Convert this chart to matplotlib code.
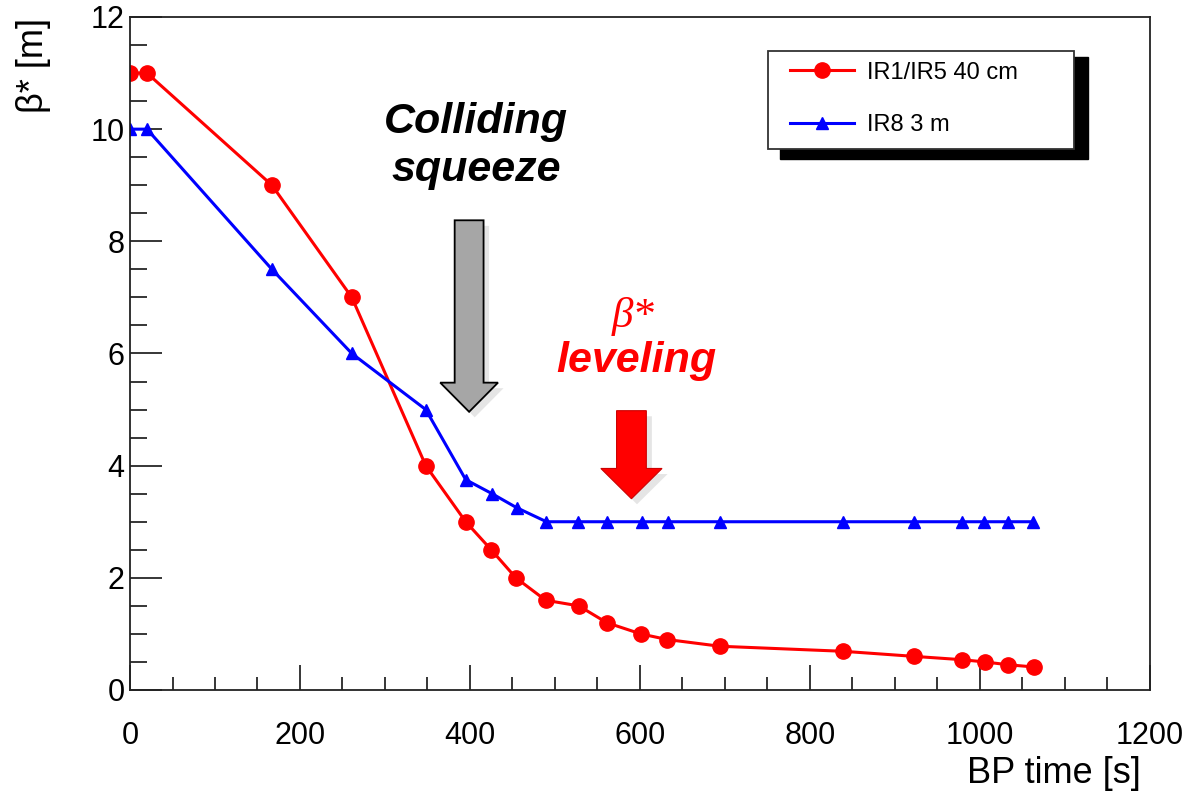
import matplotlib
matplotlib.use('Agg')
import matplotlib.pyplot as plt
import matplotlib.patches as mpatches
import matplotlib.patheffects as pe
from matplotlib.ticker import MultipleLocator

plt.rcParams['font.family'] = ['Liberation Sans', 'DejaVu Sans']

# IR1/IR5 40 cm
t_ir15 = [0, 20, 167, 261, 348, 395, 425, 454, 489, 528, 561, 601, 632, 694,
          839, 922, 979, 1006, 1033, 1064]
b_ir15 = [11.0, 11.0, 9.0, 7.0, 4.0, 3.0, 2.5, 2.0, 1.6, 1.5, 1.2, 1.0, 0.9, 0.78,
          0.69, 0.6, 0.54, 0.5, 0.45, 0.41]

# IR8 3 m
t_ir8 = [0, 20, 167, 261, 348, 395, 426, 455, 490, 527, 561, 602, 633, 694,
         839, 922, 979, 1005, 1033, 1063]
b_ir8 = [10.0, 10.0, 7.5, 6.0, 5.0, 3.75, 3.5, 3.25, 3.0, 3.0, 3.0, 3.0, 3.0, 3.0,
         3.0, 3.0, 3.0, 3.0, 3.0, 3.0]

fig = plt.figure(figsize=(11.83, 7.94), dpi=100)
ax = fig.add_axes([0.1099, 0.131, 0.972 - 0.1099, 0.9786 - 0.131])

ax.plot(t_ir15, b_ir15, color='red', lw=2.2, marker='o', ms=11, mec='red', label='IR1/IR5 40 cm')
ax.plot(t_ir8, b_ir8, color='blue', lw=2.2, marker='^', ms=9, mec='blue', label='IR8 3 m')

ax.set_xlim(0, 1200)
ax.set_ylim(0, 12)
ax.xaxis.set_major_locator(MultipleLocator(200))
ax.xaxis.set_minor_locator(MultipleLocator(50))
ax.yaxis.set_major_locator(MultipleLocator(2))
ax.yaxis.set_minor_locator(MultipleLocator(0.5))
ax.tick_params(axis='x', which='major', direction='in', length=18, width=1.1, labelsize=22, pad=22)
ax.tick_params(axis='x', which='minor', direction='in', length=9.5, width=1.1)
ax.tick_params(axis='y', which='major', direction='in', length=23, width=1.1, labelsize=22, pad=4)
ax.tick_params(axis='y', which='minor', direction='in', length=12, width=1.1)
for s in ax.spines.values():
    s.set_linewidth(1.3)
    s.set_color('#222222')

fig.text(0.028, 0.978, 'β* [m]', rotation=90, ha='center', va='top', fontsize=26)
fig.text(0.964, 0.004, 'BP time [s]', ha='right', va='bottom', fontsize=26)

# legend frame with ROOT style shadow
fw, fh = 1183.0, 794.0
shadow = mpatches.Rectangle((780 / fw, 1 - 159 / fh), 308 / fw, 102 / fh, transform=fig.transFigure,
                            facecolor='black', edgecolor='black', zorder=5, clip_on=False)
frame = mpatches.Rectangle((768 / fw, 1 - 149 / fh), 306 / fw, 98 / fh, transform=fig.transFigure,
                           facecolor='white', edgecolor='#333333', lw=1.3, zorder=6, clip_on=False)
ax.add_artist(shadow)
ax.add_artist(frame)
leg = ax.legend(loc='center left', bbox_to_anchor=(778 / fw, 1 - 99 / fh), bbox_transform=fig.transFigure,
                frameon=False, fontsize=17, handlelength=2.7, handletextpad=0.55, labelspacing=1.3,
                borderpad=0, markerscale=1.0)
leg.set_zorder(7)

# annotations
ax.text(407, 9.7, 'Colliding\nsqueeze', ha='center', va='center', fontsize=31,
        fontweight='bold', style='italic', linespacing=1.25)
ax.text(592, 6.66, 'β*', ha='center', va='center', fontsize=31, style='italic',
        family='Liberation Serif', color='red')
ax.text(596, 5.86, 'leveling', ha='center', va='center', fontsize=31,
        fontweight='bold', style='italic', color='red')

shadow_fx = [pe.SimplePatchShadow(offset=(4, -4), shadow_rgbFace='gray', alpha=0.2), pe.Normal()]
gray_arrow = mpatches.FancyArrow(399, 8.375, 0, 4.96 - 8.375, width=34, head_width=68, head_length=0.52,
                                 length_includes_head=True, facecolor='#a6a6a6', edgecolor='black', lw=1.3)
gray_arrow.set_path_effects(shadow_fx)
ax.add_patch(gray_arrow)

red_arrow = mpatches.FancyArrow(590, 4.98, 0, 3.41 - 4.98, width=35, head_width=72, head_length=0.54,
                                length_includes_head=True, facecolor='red', edgecolor='#cc0000', lw=0.8)
red_arrow.set_path_effects(shadow_fx)
ax.add_patch(red_arrow)

fig.savefig('out.png', dpi=100, facecolor='white')
